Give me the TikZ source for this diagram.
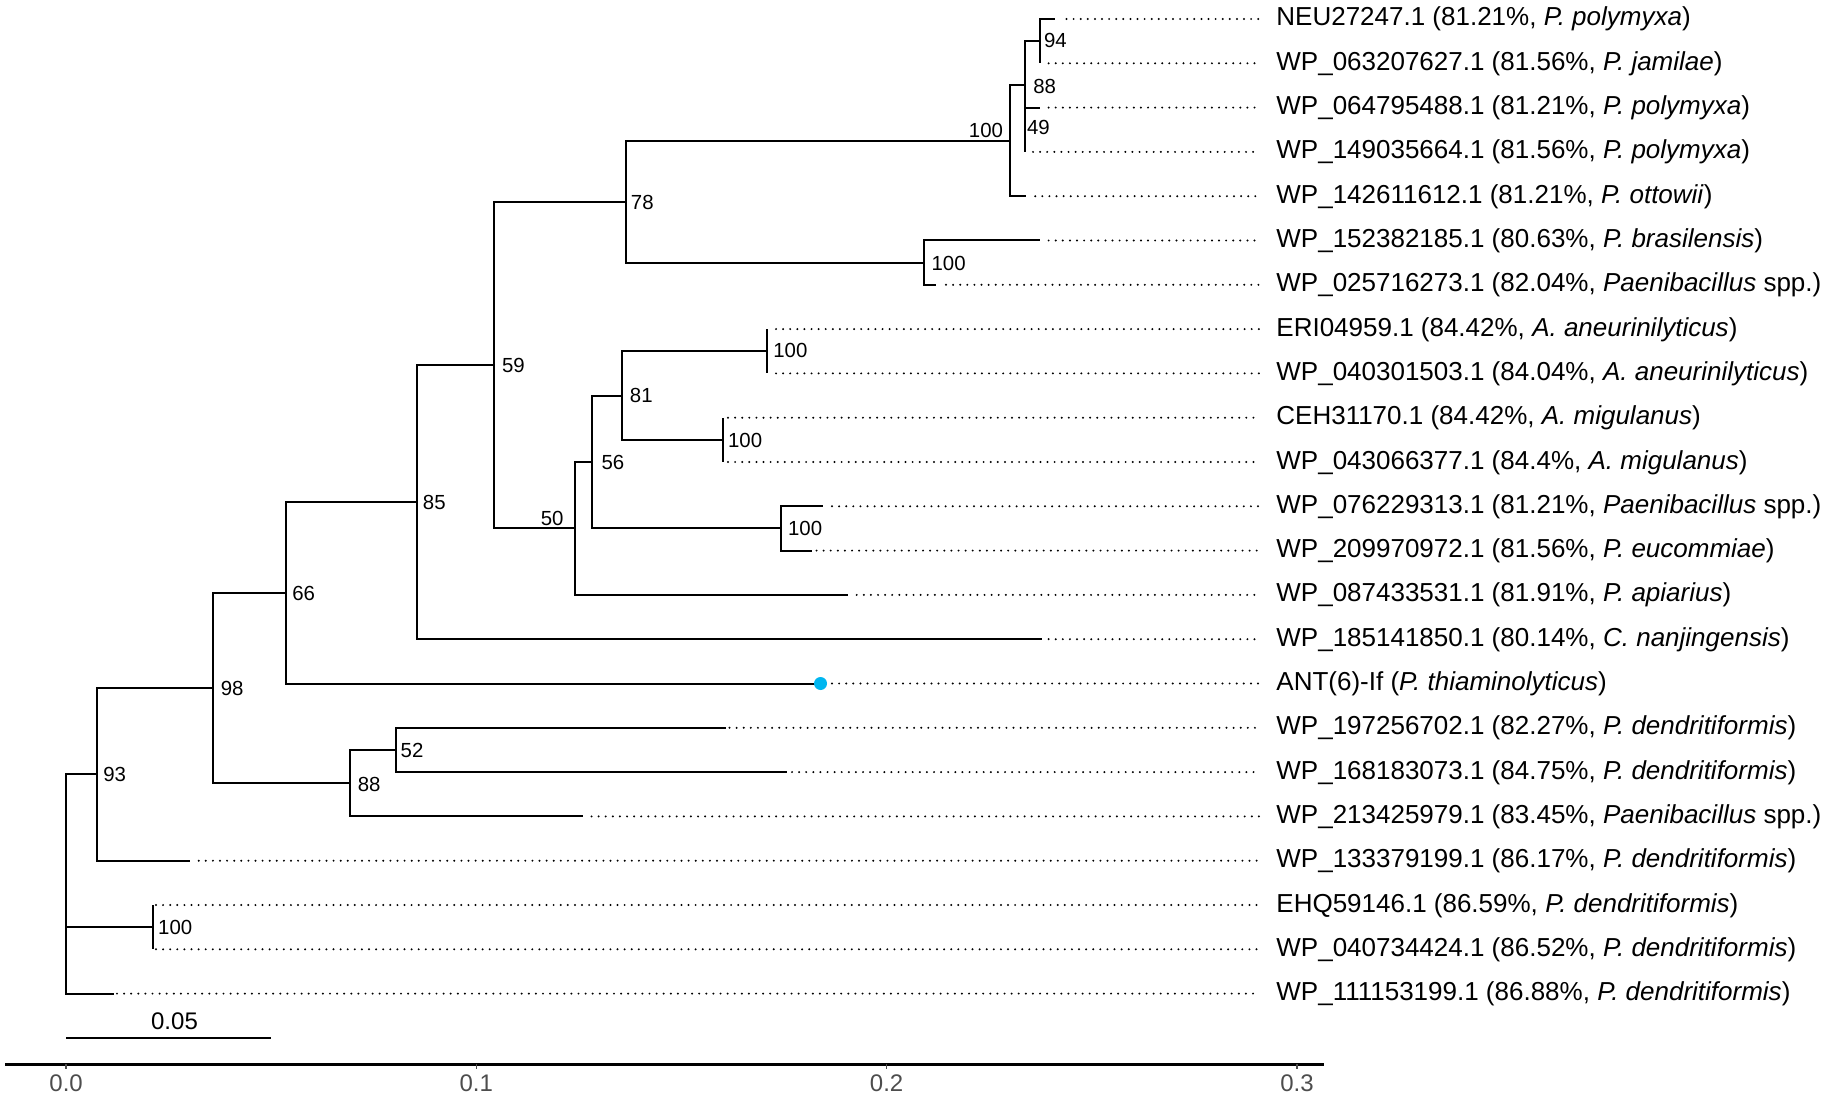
\documentclass[tikz,border=0pt]{standalone}
\usepackage{fontspec}
\setmainfont{Liberation Sans}
\definecolor{dotblue}{RGB}{0,182,240}
\definecolor{axisgrey}{RGB}{77,77,77}
\begin{document}
\begin{tikzpicture}[x=0.5pt,y=-0.5pt,
  branch/.style={line width=1pt},
  leafdot/.style={line width=1.1pt, line cap=round, dash pattern=on 0pt off 3.55pt},
  taxon/.style={anchor=base west, inner sep=0pt, font=\fontsize{13}{15}\selectfont},
  boot/.style={inner sep=0pt, font=\fontsize{10.2}{12}\selectfont},
  ticklab/.style={inner sep=0pt, text=axisgrey, font=\fontsize{12}{14}\selectfont},
  tickmark/.style={line width=0.8pt, draw=axisgrey}]
\useasboundingbox (0,0) rectangle (1831,1101);

% leaves: row / tip x / dotted start / label
\foreach \i/\tx/\ds/\lab in {
 1/1055.3/1066.5/{NEU27247.1 (81.21\%, \textit{P. polymyxa})},
 2/1040.2/1048.6/{WP\_063207627.1 (81.56\%, \textit{P. jamilae})},
 3/1040.2/1048.6/{WP\_064795488.1 (81.21\%, \textit{P. polymyxa})},
 4/1024.5/1033.0/{WP\_149035664.1 (81.56\%, \textit{P. polymyxa})},
 5/1026.3/1035.2/{WP\_142611612.1 (81.21\%, \textit{P. ottowii})},
 6/1039.7/1048.6/{WP\_152382185.1 (80.63\%, \textit{P. brasilensis})},
 7/935.7/946.0/{WP\_025716273.1 (82.04\%, \textit{Paenibacillus} spp.)},
 8/766.5/776.0/{ERI04959.1 (84.42\%, \textit{A. aneurinilyticus})},
 9/766.5/776.0/{WP\_040301503.1 (84.04\%, \textit{A. aneurinilyticus})},
 10/723.2/728.0/{CEH31170.1 (84.42\%, \textit{A. migulanus})},
 11/723.2/728.0/{WP\_043066377.1 (84.4\%, \textit{A. migulanus})},
 12/823.2/832.0/{WP\_076229313.1 (81.21\%, \textit{Paenibacillus} spp.)},
 13/812.0/816.5/{WP\_209970972.1 (81.56\%, \textit{P. eucommiae})},
 14/847.8/856.7/{WP\_087433531.1 (81.91\%, \textit{P. apiarius})},
 15/1042.0/1048.6/{WP\_185141850.1 (80.14\%, \textit{C. nanjingensis})},
 16/820.5/832.0/{ANT(6)-If (\textit{P. thiaminolyticus})},
 17/726.0/729.5/{WP\_197256702.1 (82.27\%, \textit{P. dendritiformis})},
 18/786.6/792.0/{WP\_168183073.1 (84.75\%, \textit{P. dendritiformis})},
 19/582.6/591.5/{WP\_213425979.1 (83.45\%, \textit{Paenibacillus} spp.)},
 20/189.7/198.7/{WP\_133379199.1 (86.17\%, \textit{P. dendritiformis})},
 21/153.1/156.0/{EHQ59146.1 (86.59\%, \textit{P. dendritiformis})},
 22/153.1/156.0/{WP\_040734424.1 (86.52\%, \textit{P. dendritiformis})},
 23/113.8/117.0/{WP\_111153199.1 (86.88\%, \textit{P. dendritiformis})}}{
  \pgfmathsetmacro{\yy}{19+44.3*(\i-1)}
  \coordinate (tip\i) at (\tx,\yy);
  \coordinate (ds\i) at (\ds,\yy);
  \coordinate (de\i) at (1260,\yy);
  \node[taxon] (lab\i) at (1276,\yy+7) {\lab};
  \draw[leafdot] (ds\i) -- (de\i);
}

% internal nodes
\coordinate (root) at (66.1,898.4);
\coordinate (n93) at (96.9,774.35);
\coordinate (n98) at (213,688);
\coordinate (n66) at (286.2,592.8);
\coordinate (n85) at (416.5,502.15);
\coordinate (n59) at (494.2,365.1);
\coordinate (n78) at (626.3,201.7);
\coordinate (n100a) at (1010.3,140.8);
\coordinate (n88a) at (1024.5,85.45);
\coordinate (n94) at (1040.2,41.15);
\coordinate (n49) at (1024.5,129.75);
\coordinate (n100b) at (923.7,262.65);
\coordinate (n50) at (574.5,528.45);
\coordinate (n56) at (592,462);
\coordinate (n81) at (621.8,395.55);
\coordinate (n100c) at (766.5,351.25);
\coordinate (n100d) at (723.2,439.85);
\coordinate (n100e) at (780.8,528.45);
\coordinate (n88b) at (350.4,783.2);
\coordinate (n52) at (396,749.95);
\coordinate (n100f) at (153.1,927.15);

% branches
\foreach \p/\c in {root/n93, root/n100f, root/tip23,
  n93/n98, n93/tip20, n98/n66, n98/n88b, n66/n85, n66/tip16,
  n85/n59, n85/tip15, n59/n78, n59/n50, n78/n100a, n78/n100b,
  n100a/n88a, n100a/tip5, n88a/n94, n88a/n49, n94/tip1, n94/tip2,
  n49/tip3, n49/tip4, n100b/tip6, n100b/tip7, n50/n56, n50/tip14,
  n56/n81, n56/n100e, n81/n100c, n81/n100d, n100c/tip8, n100c/tip9,
  n100d/tip10, n100d/tip11, n100e/tip12, n100e/tip13,
  n88b/n52, n88b/tip19, n52/tip17, n52/tip18, n100f/tip21, n100f/tip22}{
  \draw[branch] (\p) |- (\c);
}

% highlighted tip
\fill[dotblue] (tip16) circle (3.25pt);

% bootstrap values
\node[boot] (b94) at (1055.4,40.8) {94};
\node[boot] (b88a) at (1044.6,86) {88};
\node[boot] (b49) at (1038.4,127.8) {49};
\node[boot] (b100a) at (986,130.3) {100};
\node[boot] (b78) at (642.3,202) {78};
\node[boot] (b100b) at (948.6,263.7) {100};
\node[boot] (b59) at (513.4,365) {59};
\node[boot] (b100c) at (790.4,350.8) {100};
\node[boot] (b81) at (641.3,395.8) {81};
\node[boot] (b100d) at (745.1,440.5) {100};
\node[boot] (b56) at (612.9,462.5) {56};
\node[boot] (b50) at (552.2,518) {50};
\node[boot] (b100e) at (805.1,528.8) {100};
\node[boot] (b85) at (434.3,502.5) {85};
\node[boot] (b66) at (303.6,593.2) {66};
\node[boot] (b98) at (232.1,688.5) {98};
\node[boot] (b52) at (412,750.8) {52};
\node[boot] (b88b) at (369.2,784.2) {88};
\node[boot] (b93) at (114.7,774.2) {93};
\node[boot] (b100f) at (175.2,927.5) {100};

% scale bar
\coordinate (sb0) at (66.1,1038.3);
\coordinate (sb1) at (271.3,1038.3);
\draw[branch] (sb0) -- (sb1);
\node[inner sep=0pt, font=\fontsize{12}{14}\selectfont] (sblab) at (174.5,1021.7) {0.05};

% axis
\coordinate (ax0) at (5.4,1064.3);
\coordinate (ax1) at (1324.1,1064.3);
\draw[line width=1.2pt] (ax0) -- (ax1);
\foreach \k/\v/\xx in {0/0.0/66.1, 1/0.1/476.3, 2/0.2/886.6, 3/0.3/1297}{
  \coordinate (tk\k) at (\xx,1064.3);
  \draw[tickmark] (tk\k) -- ++(0,5);
  \node[ticklab] (tl\k) at (\xx,1083.3) {\v};
}
\end{tikzpicture}
\end{document}
